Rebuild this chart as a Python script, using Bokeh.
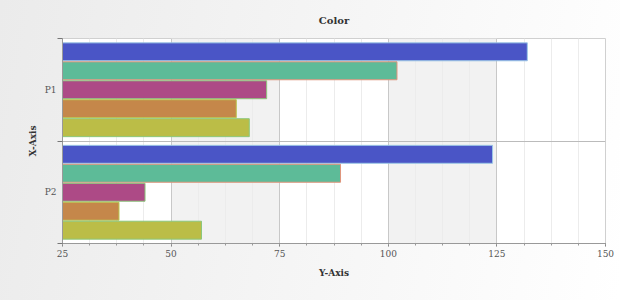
from bokeh.plotting import figure
from bokeh.models import (ColumnDataSource, Range1d, FixedTicker,
                          SingleIntervalTicker, InlineStyleSheet)
from bokeh.transform import dodge
from bokeh.embed import file_html
from bokeh.resources import INLINE

categories = ["P1", "P2"]
series_names = ["s1", "s2", "s3", "s4", "s5"]
s1 = [132, 124]
s2 = [102, 89]
s3 = [72, 44]
s4 = [65, 38]
s5 = [68, 57]
fills = ["#4a55c6", "#5dbb98", "#ad4a86", "#c5874a", "#bbbd47"]
lines = ["#9cc7e6", "#e0957c", "#8cc77c", "#b8c34e", "#8cc77c"]
x_ticks = [25, 50, 75, 100, 125, 150]

n = len(categories)
# category centres on a numeric axis: first category at the top
centres = [n - i - 0.5 for i in range(n)]
source = ColumnDataSource(dict(cat=categories, pos=centres, s1=s1, s2=s2, s3=s3, s4=s4, s5=s5))

FONT = "DejaVu Serif"
p = figure(width=620, height=300, output_backend="svg", toolbar_location=None,
           y_range=Range1d(0, n), x_range=Range1d(x_ticks[0], x_ticks[-1]),
           title="Color",
           min_border_left=62, min_border_right=15, min_border_top=38, min_border_bottom=57)
p.border_fill_alpha = 0
p.background_fill_color = "white"
p.outline_line_color = "#d0d0d0"
p.stylesheets = [InlineStyleSheet(css=":host { background: linear-gradient(100deg, #ebebeb 0%, #f6f6f6 55%, #ffffff 100%); }")]

p.title.align = "center"
p.title.text_font = FONT
p.title.text_font_size = "10px"
p.title.text_font_style = "bold"
p.title.text_color = "#333333"
p.title.standoff = 25

offsets = [0.37, 0.185, 0.0, -0.185, -0.37]
for name, off, fc, lc in zip(series_names, offsets, fills, lines):
    p.hbar(y=dodge("pos", off), left=x_ticks[0], right=name, height=0.175,
           source=source, fill_color=fc, line_color=lc, line_width=1)

xa = p.xaxis[0]
xa.ticker = SingleIntervalTicker(interval=25, num_minor_ticks=4)
xa.axis_label = "Y-Axis"
ya = p.yaxis[0]
ya.ticker = FixedTicker(ticks=centres, minor_ticks=list(range(n + 1)))
ya.major_label_overrides = {c: lab for c, lab in zip(centres, categories)}
ya.axis_label = "X-Axis"
for ax in [xa, ya]:
    ax.axis_label_text_font = FONT
    ax.axis_label_text_font_style = "bold"
    ax.axis_label_text_font_size = "9px"
    ax.axis_label_text_color = "#333333"
    ax.major_label_text_font = FONT
    ax.major_label_text_font_size = "9px"
    ax.major_label_text_color = "#555555"
    ax.axis_line_color = "#999999"
xa.major_tick_line_color = "#777777"
xa.minor_tick_line_color = "#999999"
xa.major_tick_out = 3
xa.major_tick_in = 0
xa.minor_tick_out = 2
xa.minor_tick_in = 0
xa.major_label_standoff = 3
xa.axis_label_standoff = 8
ya.major_tick_line_color = None
ya.major_tick_out = 0
ya.major_tick_in = 0
ya.major_label_standoff = 1
ya.minor_tick_line_color = "#777777"
ya.minor_tick_out = 5
ya.minor_tick_in = 0
ya.axis_label_standoff = 4

p.ygrid.ticker = FixedTicker(ticks=list(range(1, n)))
p.ygrid.grid_line_color = "#bbbbbb"

p.xgrid.ticker = SingleIntervalTicker(interval=25, num_minor_ticks=4)
p.xgrid.grid_line_color = "#c8c8c8"
p.xgrid.minor_grid_line_color = "#ececec"
p.xgrid.band_fill_color = "#f2f2f2"
p.xgrid.band_fill_alpha = 1

open("out.html", "w").write(file_html(p, INLINE))
